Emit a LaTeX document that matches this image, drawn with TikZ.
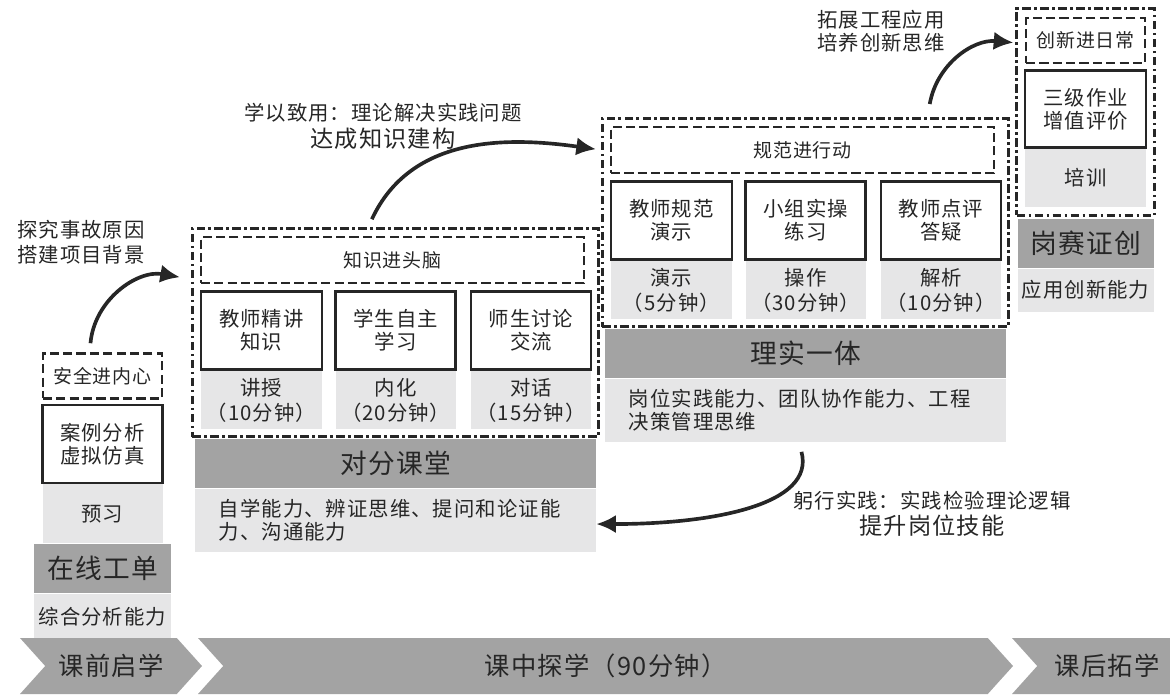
\documentclass[tikz,border=0pt]{standalone}
\usepackage{fontspec}
\setmainfont{Noto Sans CJK SC}[LetterSpace=5]
\usetikzlibrary{arrows.meta, positioning, fit, shapes.symbols}

\definecolor{ink}{HTML}{262626}
\definecolor{bandgray}{HTML}{A3A3A3}
\definecolor{softgray}{HTML}{E6E6E7}

\begin{document}
\begin{tikzpicture}[
  text=ink,
  box/.style = {draw=ink, line width=1.8pt, fill=white, minimum width=3cm, minimum height=1.95cm, align=center, inner sep=0pt, font=\fontsize{14.5}{16.4}\selectfont},
  note/.style = {fill=softgray, minimum width=3cm, minimum height=1.45cm, align=center, inner sep=0pt, font=\fontsize{14.5}{17.8}\selectfont},
  goal/.style = {draw=ink, line width=1.9pt, dash pattern=on 6.5pt off 3pt, minimum width=2.975cm, minimum height=1.125cm, align=center, inner sep=0pt, font=\fontsize{13.5}{16}\selectfont},
  dashframe/.style = {draw=ink, line width=1.8pt, dash pattern=on 6pt off 2.5pt on 1.8pt off 2.5pt, inner sep=0.18cm},
  band/.style = {fill=bandgray, minimum height=1.225cm, inner sep=0pt, font=\fontsize{19}{22}\selectfont},
  skill/.style = {fill=softgray, inner sep=0pt, align=center, font=\fontsize{14.5}{16.4}\selectfont},
  stage/.style = {signal, signal to=east, signal from=west, signal pointer angle=96, fill=bandgray, minimum height=1.4cm, inner sep=0pt, font=\fontsize{18}{20}\selectfont},
  label/.style = {align=left, font=\fontsize{14.5}{17.8}\selectfont},
  swoosh/.style = {draw=ink, line width=2.6pt, -{Latex[length=14pt, width=13pt]}},
  node distance=0pt
]
\useasboundingbox (0,0) rectangle (29.25,-17.4);

% Nodes for pre-class column
\node[goal, anchor=north] (goal0) at (2.5625,-8.8) {安全进内心};
\node[box, below=0.1cm of goal0] (task0) {案例分析\\虚拟仿真};
\node[note, minimum height=1.475cm, below=of task0] (time0) {预习};
\node[band, minimum width=3.425cm, below=of time0] (band0) {在线工单};
\node[skill, minimum width=3.425cm, minimum height=1.175cm, below=of band0] (skill0) {综合分析能力};

% Nodes for in-class block (对分课堂)
\node[goal, minimum width=9.575cm, minimum height=1.15cm] (title1) at (9.8125,-6.5) {知识进头脑};
\node[box, minimum width=3.025cm, below right=0.15cm and 0cm of title1.south west] (task1a) {教师精讲\\知识};
\node[box, right=0.28cm of task1a] (task1b) {学生自主\\学习};
\node[box, right=0.32cm of task1b] (task1c) {师生讨论\\交流};
\node[note, minimum width=3.025cm, below=of task1a] (time1a) {讲授\\（10分钟）};
\node[note, below=of task1b] (time1b) {内化\\（20分钟）};
\node[note, below=of task1c] (time1c) {对话\\（15分钟）};
\node[dashframe, fit=(title1)(time1a)(time1c)] (frame1) {};
\node[band, minimum width=10.025cm, below=0.02cm of frame1] (band1) {对分课堂};
\node[skill, minimum height=1.575cm, text width=8.825cm, inner xsep=0.6cm, align=left, below=of band1] (skill1) {自学能力、辨证思维、提问和论证能\\力、沟通能力};

% Nodes for in-class block (理实一体)
\node[goal, minimum width=9.575cm, minimum height=1.15cm] (title2) at (20.0625,-3.75) {规范进行动};
\node[box, minimum width=3.025cm, below right=0.15cm and 0cm of title2.south west] (task2a) {教师规范\\演示};
\node[box, right=0.28cm of task2a] (task2b) {小组实操\\练习};
\node[box, right=0.32cm of task2b] (task2c) {教师点评\\答疑};
\node[note, minimum width=3.025cm, below=of task2a] (time2a) {演示\\（5分钟）};
\node[note, below=of task2b] (time2b) {操作\\（30分钟）};
\node[note, below=of task2c] (time2c) {解析\\（10分钟）};
\node[dashframe, fit=(title2)(time2a)(time2c)] (frame2) {};
\node[band, minimum width=10.025cm, below=0.02cm of frame2] (band2) {理实一体};
\node[skill, minimum height=1.575cm, text width=8.825cm, inner xsep=0.6cm, align=left, below=of band2] (skill2) {岗位实践能力、团队协作能力、工程\\决策管理思维};

% Nodes for post-class column
\node[goal] (title3) at (27.1375,-1.0125) {创新进日常};
\node[box, minimum width=3.025cm, minimum height=1.925cm, below=0.125cm of title3] (task3) {三级作业\\增值评价};
\node[note, minimum width=3.025cm, below=of task3] (time3) {培训};
\node[dashframe, inner sep=0.2cm, fit=(title3)(time3)] (frame3) {};
\node[band, minimum width=3.4cm, below=0.05cm of frame3] (band3) {岗赛证创};
\node[skill, minimum width=3.4cm, minimum height=1.075cm, below=of band3] (skill3) {应用创新能力};

% Stages
\node[stage, minimum width=4.55cm] (stage0) at (2.775,-16.65) {课前启学};
\node[stage, minimum width=20.375cm] (stage1) at (15.1375,-16.65) {课中探学（90分钟）};
\node[stage, minimum width=4.75cm] (stage2) at (27.675,-16.65) {课后拓学};

% Arrows
\draw[swoosh] ([xshift=-0.3cm, yshift=0.22cm]goal0.north) to[out=85, in=170] ([xshift=-0.28cm, yshift=-1.25cm]frame1.north west);
\draw[swoosh] ([xshift=-0.59cm, yshift=0.2cm]frame1.north) to[out=65, in=172] ([xshift=-0.13cm, yshift=-0.8cm]frame2.north west);
\draw[swoosh] ([xshift=-0.1cm, yshift=-0.25cm]skill2.south) to[out=-75, in=0, out looseness=0.65, in looseness=1.35] ([yshift=-0.1cm]skill1.east);
\draw[swoosh] ([xshift=-2cm, yshift=0.33cm]frame2.north east) to[out=80, in=175] ([xshift=-0.05cm, yshift=-0.88cm]frame3.north west);

% Labels
\node[label] (lab0) at (2.025,-6.05) {探究事故原因\\搭建项目背景};
\node[label, align=center] (lab1) at (9.575,-3.16) {学以致用：理论解决实践问题\\[1pt]{\fontsize{16.5}{19}\selectfont 达成知识建构}};
\node[label, align=center] (lab2) at (23.3,-12.84) {躬行实践：实践检验理论逻辑\\[1pt]{\fontsize{16.5}{19}\selectfont 提升岗位技能}};
\node[label, font=\fontsize{14.5}{16.4}\selectfont] (lab3) at (22.025,-0.79) {拓展工程应用\\培养创新思维};
\end{tikzpicture}
\end{document}
